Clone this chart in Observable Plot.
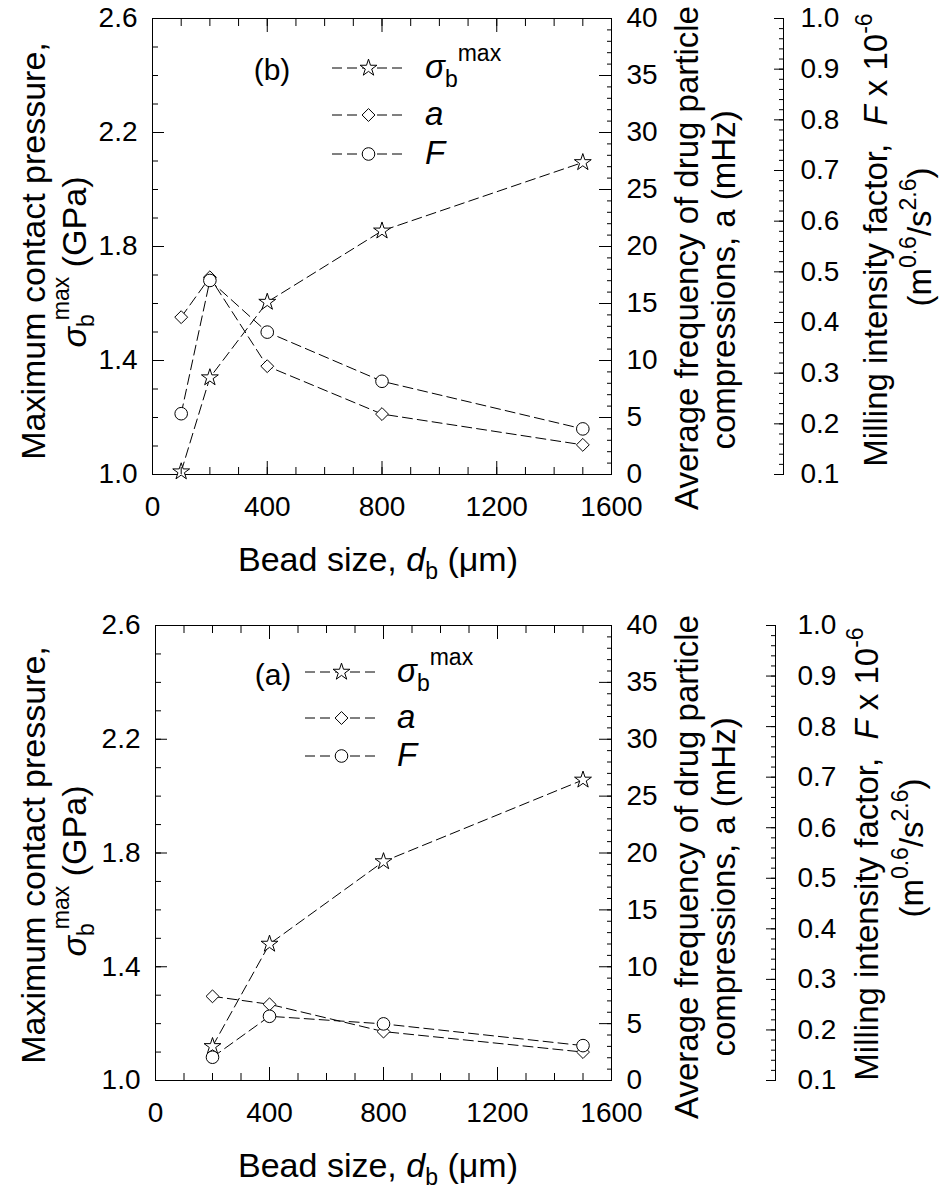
<!DOCTYPE html>
<html>
<head>
<meta charset="utf-8">
<script src="https://cdn.jsdelivr.net/npm/d3@7"></script>
<script src="https://cdn.jsdelivr.net/npm/@observablehq/plot@0.6"></script>
<style>
  html, body { margin: 0; padding: 0; background: #fff; }
  #chart svg { display: block; }
</style>
</head>
<body>
<div id="chart"></div>
<script>
// ---------- data ----------
// panel (b)
const beadSizeB = [100, 200, 400, 800, 1500];
const sigmaB = [1.01, 1.34, 1.605, 1.855, 2.095];
const freqB = [13.8, 17.3, 9.5, 5.3, 2.6];
const intensityB = [0.22, 0.483, 0.381, 0.284, 0.19];
// panel (a)
const beadSizeA = [200, 400, 800, 1500];
const sigmaA = [1.12, 1.48, 1.77, 2.057];
const freqA = [7.4, 6.7, 4.3, 2.5];
const intensityA = [0.146, 0.227, 0.212, 0.169];

// ---------- axes ----------
const xDomain = [0, 1600];
const sigmaDomain = [1.0, 2.6];
const freqDomain = [0, 40];
const intensityDomain = [0.1, 1.0];

const xMajorTicks = [0, 400, 800, 1200, 1600];
const xMinorTicks = [0, 100, 200, 300, 400, 500, 600, 700, 800, 900, 1000, 1100, 1200, 1300, 1400, 1500, 1600];
const sigmaMajorTicks = [1.0, 1.4, 1.8, 2.2, 2.6];
const sigmaMinorTicks = [1.0, 1.1, 1.2, 1.3, 1.4, 1.5, 1.6, 1.7, 1.8, 1.9, 2.0, 2.1, 2.2, 2.3, 2.4, 2.5, 2.6];
const freqMajorTicks = [0, 5, 10, 15, 20, 25, 30, 35, 40];
const freqMinorTicks = [0, 1, 2, 3, 4, 5, 6, 7, 8, 9, 10, 11, 12, 13, 14, 15, 16, 17, 18, 19, 20,
  21, 22, 23, 24, 25, 26, 27, 28, 29, 30, 31, 32, 33, 34, 35, 36, 37, 38, 39, 40];
const intensityMajorTicks = [0.1, 0.2, 0.3, 0.4, 0.5, 0.6, 0.7, 0.8, 0.9, 1.0];
const intensityMinorTicks = [0.10, 0.12, 0.14, 0.16, 0.18, 0.20, 0.22, 0.24, 0.26, 0.28, 0.30, 0.32, 0.34, 0.36, 0.38,
  0.40, 0.42, 0.44, 0.46, 0.48, 0.50, 0.52, 0.54, 0.56, 0.58, 0.60, 0.62, 0.64, 0.66, 0.68, 0.70,
  0.72, 0.74, 0.76, 0.78, 0.80, 0.82, 0.84, 0.86, 0.88, 0.90, 0.92, 0.94, 0.96, 0.98, 1.00];

// map a secondary-axis value onto the primary (sigma) y scale, and back
const lin = (from, to) => v => to[0] + (v - from[0]) / (from[1] - from[0]) * (to[1] - to[0]);
const freqToY = lin(freqDomain, sigmaDomain);
const yToFreq = lin(sigmaDomain, freqDomain);
const intensityToY = lin(intensityDomain, sigmaDomain);
const yToIntensity = lin(sigmaDomain, intensityDomain);

const FONT = "Liberation Sans, Arial, Helvetica, sans-serif";
const blank = () => "";

function buildPanel(cfg) {
  const rows = cfg.bead.map((x, i) => ({x, sigma: cfg.sigma[i], freq: cfg.freq[i], intensity: cfg.intensity[i]}));
  const series = [
    {symbol: "star", r: 5.3, y: d => d.sigma},
    {symbol: "diamond2", r: 5.8, y: d => freqToY(d.freq)},
    {symbol: "circle", r: 6.3, y: d => intensityToY(d.intensity)}
  ];
  const marks = [Plot.frame({stroke: "black"})];
  for (const s of series) {
    marks.push(Plot.line(rows, {x: "x", y: s.y, stroke: "black", strokeWidth: 1, strokeDasharray: "10,5"}));
  }
  for (const s of series) {
    marks.push(Plot.dot(rows, {x: "x", y: s.y, symbol: s.symbol, r: s.r, stroke: "black", fill: "white", strokeWidth: 1}));
  }
  const tk = {stroke: "black", strokeWidth: 1};
  marks.push(
    // x axis (bottom with labels, top mirrored)
    Plot.axisX(xMinorTicks, {...tk, anchor: "bottom", tickSize: -7, tickFormat: blank}),
    Plot.axisX(xMajorTicks, {...tk, anchor: "bottom", tickSize: -13, tickPadding: 35, tickFormat: d => String(d)}),
    Plot.axisX(xMinorTicks, {...tk, anchor: "top", tickSize: -7, tickFormat: blank}),
    Plot.axisX(xMajorTicks, {...tk, anchor: "top", tickSize: -13, tickFormat: blank}),
    // sigma axis (left)
    Plot.axisY(sigmaMinorTicks, {...tk, anchor: "left", tickSize: -6, tickFormat: blank}),
    Plot.axisY(sigmaMajorTicks, {...tk, anchor: "left", tickSize: -12, tickPadding: 27, tickFormat: d => d.toFixed(1)}),
    // frequency axis (right side of frame)
    Plot.axisY(freqMinorTicks.map(freqToY), {...tk, anchor: "right", tickSize: -5, tickFormat: blank}),
    Plot.axisY(freqMajorTicks.map(freqToY), {...tk, anchor: "right", tickSize: -13, tickPadding: 28,
      tickFormat: d => String(Math.round(yToFreq(d)))}),
    // milling intensity axis (offset to the right)
    Plot.frame({anchor: "right", dx: cfg.fDx, stroke: "black"}),
    Plot.axisY(intensityMinorTicks.map(intensityToY), {...tk, anchor: "right", dx: cfg.fDx, tickSize: -5, tickFormat: blank}),
    Plot.axisY(intensityMajorTicks.map(intensityToY), {...tk, anchor: "right", dx: cfg.fDx, tickSize: -10, tickPadding: cfg.fPad,
      tickFormat: d => yToIntensity(d).toFixed(1)})
  );
  const svg = Plot.plot({
    width: 948,
    height: cfg.height,
    marginTop: cfg.marginTop,
    marginBottom: cfg.height - cfg.marginTop - cfg.plotHeight,
    marginLeft: cfg.marginLeft,
    marginRight: 948 - 611,
    x: {domain: xDomain, label: null},
    y: {domain: sigmaDomain, label: null},
    style: {fontFamily: FONT, fontSize: "28px", color: "black", background: "white", overflow: "visible"},
    marks
  });
  decorate(svg, cfg, series);
  return svg;
}

// rich text helper: parts = [{t, italic, size, off, dx}]
function richText(sel, x, y, rotate, anchor, size, parts) {
  const text = sel.append("text")
    .attr("transform", `translate(${x},${y})` + (rotate ? ` rotate(${rotate})` : ""))
    .attr("text-anchor", anchor)
    .attr("font-family", FONT)
    .attr("font-size", size)
    .attr("fill", "black");
  let prev = 0;
  for (const p of parts) {
    const off = p.off || 0;
    const ts = text.append("tspan").text(p.t).attr("dy", off - prev);
    if (p.dx) ts.attr("dx", p.dx);
    if (p.italic) ts.attr("font-style", "italic");
    if (p.size) ts.attr("font-size", p.size);
    prev = off;
  }
  return text;
}

function decorate(svgNode, cfg, series) {
  const svg = d3.select(svgNode);
  const g = svg.append("g").attr("aria-label", "titles and legend");
  const L = cfg.marginLeft, T = cfg.marginTop;
  const T_SIZE = 34, S_SIZE = 23;
  richText(g, cfg.leftT1, cfg.leftY1, -90, "middle", T_SIZE, [{t: "Maximum contact pressure,"}]);
  richText(g, cfg.leftT2, cfg.leftY2, -90, "middle", T_SIZE, [
    {t: "σ", italic: true}, {t: "b", size: S_SIZE, off: 8}, {t: "max", size: S_SIZE, off: -17, dx: -6}, {t: " (GPa)", off: 0}
  ]);
  richText(g, cfg.xTitleX, cfg.xTitleY, 0, "middle", T_SIZE, [
    {t: "Bead size, "}, {t: "d", italic: true}, {t: "b", size: S_SIZE, off: 8}, {t: " (μm)", off: 0}
  ]);
  richText(g, 698, cfg.aY1, -90, "middle", T_SIZE - 1, [{t: "Average frequency of drug particle"}]);
  richText(g, 735, cfg.aY2, -90, "middle", T_SIZE - 1, [{t: "compressions, a (mHz)"}]);
  richText(g, cfg.fT1, cfg.fY1, -90, "middle", T_SIZE - 1, [
    {t: "Milling intensity factor,  "}, {t: "F", italic: true}, {t: " x 10"}, {t: "-6", size: S_SIZE, off: -15}
  ]);
  richText(g, cfg.fT2, cfg.fY2, -90, "middle", T_SIZE - 1, [
    {t: "(m"}, {t: "0.6", size: S_SIZE, off: -15}, {t: "/s", off: 0}, {t: "2.6", size: S_SIZE, off: -15}, {t: ")", off: 0}
  ]);
  const lg = cfg.legend;
  richText(g, L + lg.tagX, T + lg.tagY, 0, "middle", 30, [{t: cfg.tag}]);
  const labels = [
    [{t: "σ", italic: true}, {t: "b", size: S_SIZE, off: 9}, {t: "max", size: S_SIZE, off: -17}],
    [{t: "a", italic: true}],
    [{t: "F", italic: true}]
  ];
  series.forEach((s, i) => {
    const y = T + lg.rows[i];
    g.append("line")
      .attr("x1", L + lg.x1).attr("x2", L + lg.x2).attr("y1", y).attr("y2", y)
      .attr("stroke", "black").attr("stroke-width", 1).attr("stroke-dasharray", "10,5");
    const sym = {star: d3.symbolStar, diamond2: d3.symbolDiamond2, circle: d3.symbolCircle}[s.symbol];
    g.append("path")
      .attr("d", d3.symbol(sym, Math.PI * s.r * s.r)())
      .attr("transform", `translate(${L + (lg.x1 + lg.x2) / 2},${y})`)
      .attr("fill", "white").attr("stroke", "black").attr("stroke-width", 1);
    richText(g, L + lg.labelX, y + 10, 0, "start", 33, labels[i]);
  });
}

const chart = document.getElementById("chart");
chart.appendChild(buildPanel({
  bead: beadSizeB, sigma: sigmaB, freq: freqB, intensity: intensityB, tag: "(b)",
  height: 607, marginTop: 18, plotHeight: 456, marginLeft: 152,
  fDx: 172, fPad: 27,
  leftT1: 45, leftY1: 251, leftT2: 86, leftY2: 262,
  xTitleX: 378, xTitleY: 571,
  aY1: 258, aY2: 280,
  fT1: 887, fY1: 240, fT2: 931, fY2: 237,
  legend: {tagX: 120, tagY: 62, x1: 180, x2: 253, rows: [50, 97, 136], labelX: 273}
}));
chart.appendChild(buildPanel({
  bead: beadSizeA, sigma: sigmaA, freq: freqA, intensity: intensityA, tag: "(a)",
  height: 586, marginTop: 18, plotHeight: 455, marginLeft: 155,
  fDx: 164, fPad: 32,
  leftT1: 45, leftY1: 248, leftT2: 86, leftY2: 264,
  xTitleX: 378, xTitleY: 570,
  aY1: 260, aY2: 280,
  fT1: 878, fY1: 247, fT2: 923, fY2: 241,
  legend: {tagX: 118, tagY: 60, x1: 150, x2: 223, rows: [47, 93, 131], labelX: 242}
}));
</script>
</body>
</html>
